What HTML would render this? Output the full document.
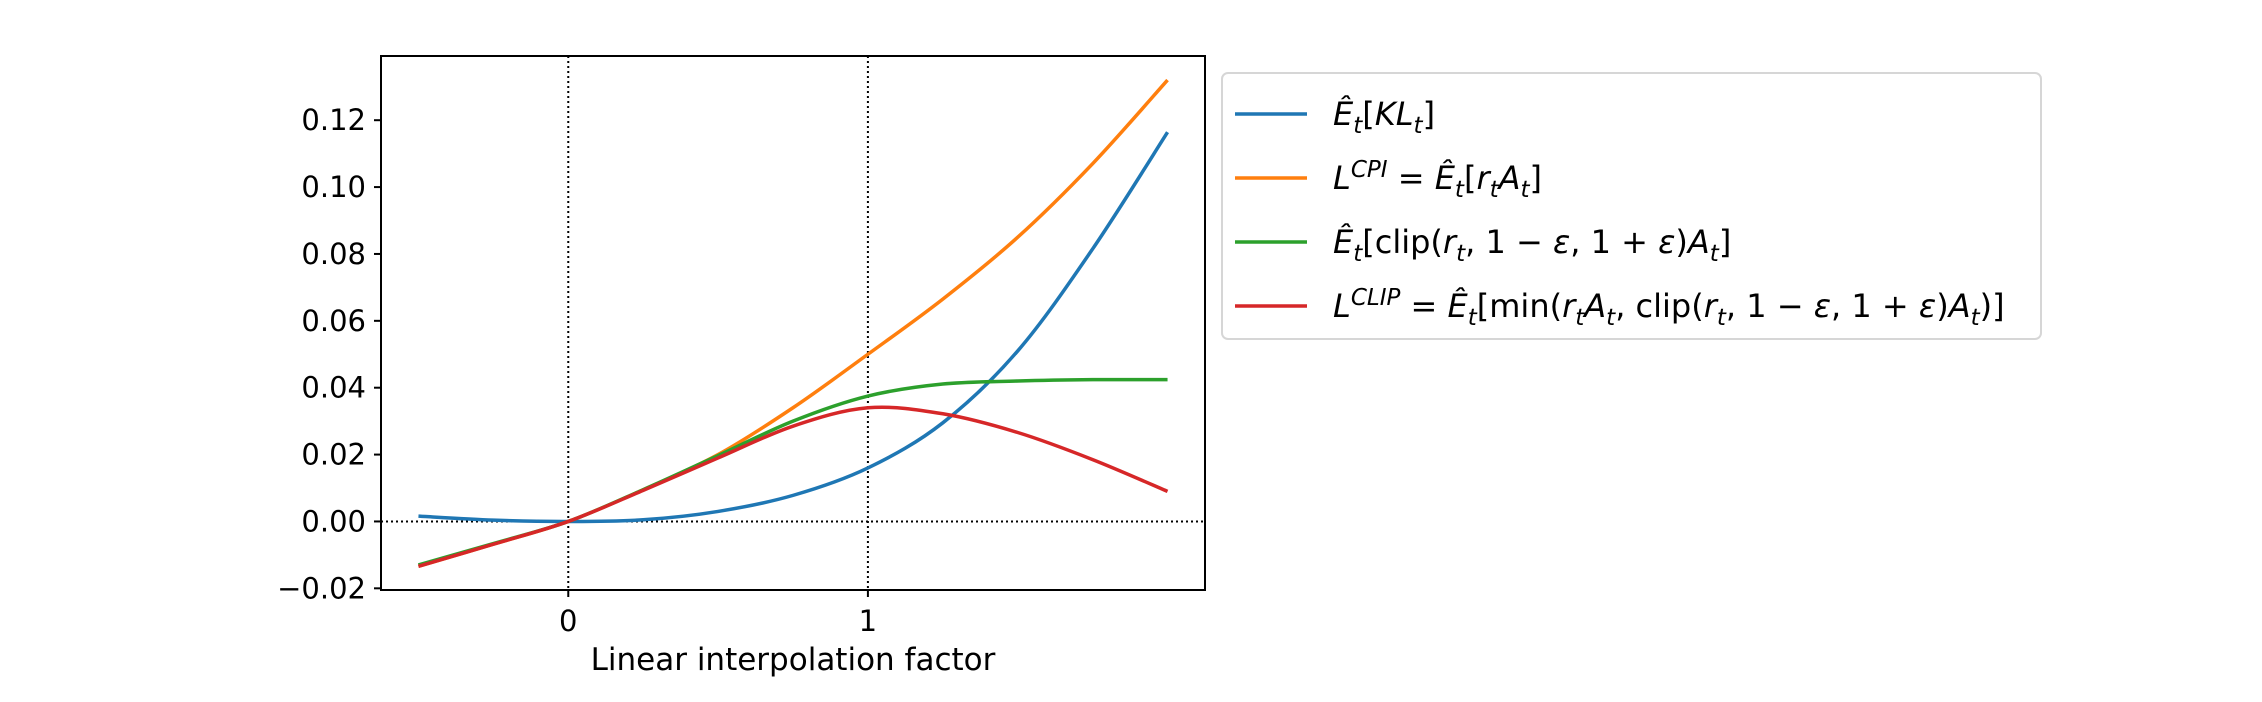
<!DOCTYPE html>
<html><head><meta charset="utf-8"><style>
html,body{margin:0;padding:0;background:#fff;}
svg{display:block;font-family:"DejaVu Sans","Liberation Sans",sans-serif;}
</style></head><body>
<svg id="chart" width="2262" height="702" viewBox="0 0 2262 702">
<rect width="2262" height="702" fill="#fff"/>
<g id="plot"></g>
<g id="legend">
<rect x="1222" y="73" width="819" height="266" rx="6" fill="#fff" stroke="#d6d6d6" stroke-width="2"/>
<line x1="1235" y1="114" x2="1307" y2="114" stroke="#1f77b4" stroke-width="3.5"/>
<text x="1333" y="125" font-size="32" font-style="italic">Ê<tspan font-size="23" dy="8">t</tspan><tspan dy="-8" font-style="normal">[</tspan>KL<tspan font-size="23" dy="8">t</tspan><tspan dy="-8" font-style="normal">]</tspan></text>
<line x1="1235" y1="178" x2="1307" y2="178" stroke="#ff7f0e" stroke-width="3.5"/>
<text x="1333" y="189" font-size="32" font-style="italic">L<tspan font-size="23" dy="-12">CPI</tspan><tspan dy="12" font-style="normal"> = </tspan>Ê<tspan font-size="23" dy="8">t</tspan><tspan dy="-8" font-style="normal">[</tspan>r<tspan font-size="23" dy="8">t</tspan><tspan dy="-8">A</tspan><tspan font-size="23" dy="8">t</tspan><tspan dy="-8" font-style="normal">]</tspan></text>
<line x1="1235" y1="242" x2="1307" y2="242" stroke="#2ca02c" stroke-width="3.5"/>
<text x="1333" y="253" font-size="32" font-style="italic">Ê<tspan font-size="23" dy="8">t</tspan><tspan dy="-8" font-style="normal">[clip(</tspan>r<tspan font-size="23" dy="8">t</tspan><tspan dy="-8" font-style="normal">, 1 − </tspan>ε<tspan font-style="normal">, 1 + </tspan>ε<tspan font-style="normal">)</tspan>A<tspan font-size="23" dy="8">t</tspan><tspan dy="-8" font-style="normal">]</tspan></text>
<line x1="1235" y1="306" x2="1307" y2="306" stroke="#d62728" stroke-width="3.5"/>
<text x="1333" y="317" font-size="32" font-style="italic">L<tspan font-size="23" dy="-12">CLIP</tspan><tspan dy="12" font-style="normal"> = </tspan>Ê<tspan font-size="23" dy="8">t</tspan><tspan dy="-8" font-style="normal">[min(</tspan>r<tspan font-size="23" dy="8">t</tspan><tspan dy="-8">A</tspan><tspan font-size="23" dy="8">t</tspan><tspan dy="-8" font-style="normal">, clip(</tspan>r<tspan font-size="23" dy="8">t</tspan><tspan dy="-8" font-style="normal">, 1 − </tspan>ε<tspan font-style="normal">, 1 + </tspan>ε<tspan font-style="normal">)</tspan>A<tspan font-size="23" dy="8">t</tspan><tspan dy="-8" font-style="normal">)]</tspan></text>
</g>
</svg>
<script>
const xs = [-0.5,-0.25,0,0.25,0.5,0.75,1,1.25,1.5,1.75,2];
const klValues = [0.0016,0.0004,0,0.0005,0.0030,0.0078,0.0160,0.0295,0.0510,0.0815,0.1164];
const cpiValues = [-0.0134,-0.0068,0,0.0095,0.0200,0.0340,0.0500,0.0665,0.0850,0.1070,0.1320];
const clipValues = [-0.0130,-0.0066,0,0.0095,0.0197,0.030,0.0375,0.0411,0.0420,0.0424,0.0424];
const lclipValues = [-0.0134,-0.0068,0,0.0093,0.0190,0.0285,0.0340,0.0322,0.0266,0.0185,0.009];
const yTicks = [-0.02,0,0.02,0.04,0.06,0.08,0.10,0.12];
const yTickLabels = ["−0.02","0.00","0.02","0.04","0.06","0.08","0.10","0.12"];
const xTicks = [0,1];
const xTickLabels = ["0","1"];

const L=381,R=1205,T=56,B=590;
const xMin=-0.625,xMax=2.125,yMin=-0.0205,yMax=0.1392;
const sx=v=>L+(v-xMin)/(xMax-xMin)*(R-L);
const sy=v=>B-(v-yMin)/(yMax-yMin)*(B-T);
const NS="http://www.w3.org/2000/svg";
const g=document.getElementById('plot');
function mk(t,a,p){const e=document.createElementNS(NS,t);for(const k in a)e.setAttribute(k,a[k]);(p||g).appendChild(e);return e;}

for(const v of xTicks){const l=mk('line',{x1:sx(v),y1:T,x2:sx(v),y2:B,stroke:'#000','stroke-width':2,'stroke-dasharray':'2,3'});

}
const hz=mk('line',{x1:L,y1:sy(0),x2:R,y2:sy(0),stroke:'#000','stroke-width':2,'stroke-dasharray':'2,3'});



function path(vals){
  const p=xs.map((x,i)=>[sx(x),sy(vals[i])]);
  let d=`M${p[0][0]},${p[0][1]}`;
  for(let i=0;i<p.length-1;i++){
    const p0=p[Math.max(i-1,0)],p1=p[i],p2=p[i+1],p3=p[Math.min(i+2,p.length-1)];
    const c1=[p1[0]+(p2[0]-p0[0])/6,p1[1]+(p2[1]-p0[1])/6];
    const c2=[p2[0]-(p3[0]-p1[0])/6,p2[1]-(p3[1]-p1[1])/6];
    d+=` C${c1[0]},${c1[1]} ${c2[0]},${c2[1]} ${p2[0]},${p2[1]}`;
  }
  return d;
}
const series=[[klValues,'#1f77b4','series-kl'],[cpiValues,'#ff7f0e','series-cpi'],[clipValues,'#2ca02c','series-clip'],[lclipValues,'#d62728','series-lclip']];
for(const [v,c,n] of series){
  const e=mk('path',{d:path(v),fill:'none',stroke:c,'stroke-width':3.5,'stroke-linejoin':'round'});
  
  
}
const fr=mk('rect',{x:L,y:T,width:R-L,height:B-T,fill:'none',stroke:'#000','stroke-width':2});


yTicks.forEach((v,i)=>{
  mk('line',{x1:L-7,y1:sy(v),x2:L,y2:sy(v),stroke:'#000','stroke-width':2});
  const t=mk('text',{x:L-15,y:sy(v)+10,'text-anchor':'end','font-size':29});
  t.textContent=yTickLabels[i];
  
  
});
xTicks.forEach((v,i)=>{
  mk('line',{x1:sx(v),y1:B,x2:sx(v),y2:B+7,stroke:'#000','stroke-width':2});
  const t=mk('text',{x:sx(v),y:B+41,'text-anchor':'middle','font-size':29});
  t.textContent=xTickLabels[i];
  
  
});
const xl=mk('text',{x:(L+R)/2,y:B+80,'text-anchor':'middle','font-size':31});
xl.textContent='Linear interpolation factor';


</script>
</body></html>
